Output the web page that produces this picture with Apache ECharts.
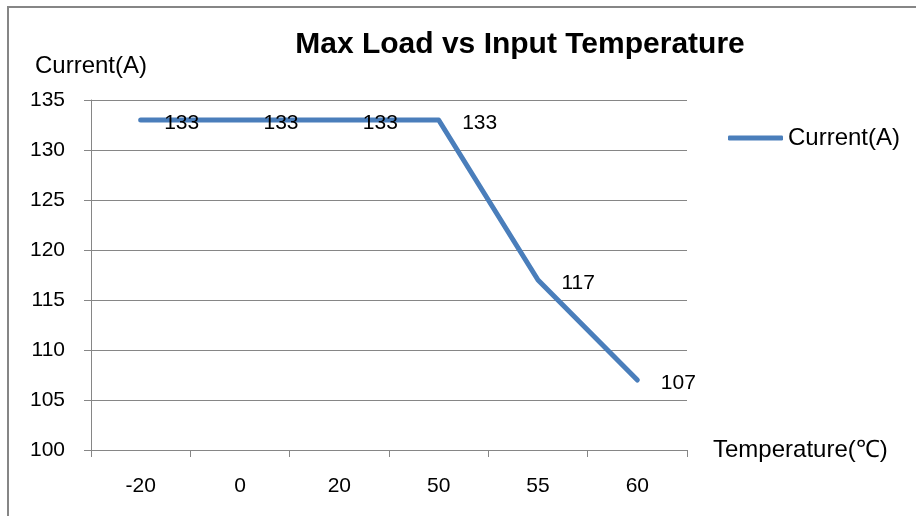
<!DOCTYPE html>
<html>
<head>
<meta charset="utf-8">
<script src="https://cdn.jsdelivr.net/npm/echarts@6/dist/echarts.min.js"></script>
<style>html,body{margin:0;padding:0;background:#fff}#c{width:916px;height:516px}</style>
</head>
<body>
<div id="c"></div>
<script>
var categories = ['-20', '0', '20', '50', '55', '60'];
var current = [133, 133, 133, 133, 117, 107];
var yMin = 100, yMax = 135, yStep = 5;
var titleText = 'Max Load vs Input Temperature';
var seriesName = 'Current(A)';
var yName = 'Current(A)';
var xName = 'Temperature(℃)';

var FONT = '"Liberation Sans", Arial, sans-serif';
var GRAY = '#868686';
var chart = echarts.init(document.getElementById('c'), null, {renderer: 'canvas'});
chart.setOption({
  animation: false,
  backgroundColor: '#fff',
  textStyle: {fontFamily: FONT},
  title: {
    text: titleText, left: 520, top: 30, textAlign: 'center', padding: 0,
    textStyle: {fontFamily: FONT, fontSize: 30, fontWeight: 'bold', color: '#000'}
  },
  legend: {
    left: 728, top: 126, padding: 0, icon: 'roundRect', itemWidth: 55, itemHeight: 5,
    textStyle: {fontFamily: FONT, fontSize: 24, color: '#000'},
    data: [seriesName]
  },
  graphic: [{
    type: 'rect', shape: {x: 8, y: 7, width: 1000, height: 600},
    style: {fill: 'none', stroke: GRAY, lineWidth: 2}, silent: true, z: -1
  }],
  grid: {left: 91, right: 229, top: 100, bottom: 66, containLabel: false},
  xAxis: {
    type: 'category', data: categories, boundaryGap: true,
    name: xName, nameLocation: 'end', nameGap: 26,
    nameTextStyle: {fontFamily: FONT, fontSize: 24, color: '#000', verticalAlign: 'middle', align: 'left'},
    axisLine: {lineStyle: {color: GRAY, width: 1}},
    axisTick: {show: true, length: 7, inside: false, lineStyle: {color: GRAY}},
    axisLabel: {fontFamily: FONT, fontSize: 21, color: '#000', margin: 26},
    splitLine: {show: false}
  },
  yAxis: {
    type: 'value', min: yMin, max: yMax, interval: yStep,
    name: yName, nameLocation: 'end', nameGap: 34,
    nameTextStyle: {fontFamily: FONT, fontSize: 24, color: '#000', verticalAlign: 'middle', align: 'center'},
    axisLine: {show: true, lineStyle: {color: GRAY, width: 1}},
    axisTick: {show: true, length: 7, inside: false, lineStyle: {color: GRAY}},
    axisLabel: {fontFamily: FONT, fontSize: 21, color: '#000', margin: 26},
    splitLine: {show: true, lineStyle: {color: GRAY, width: 1}}
  },
  series: [{
    name: seriesName, type: 'line', data: current,
    showSymbol: true, symbol: 'circle', symbolSize: 1,
    itemStyle: {color: '#4A7EBB'},
    lineStyle: {color: '#4A7EBB', width: 5, cap: 'round', join: 'round'},
    label: {show: true, position: 'right', distance: 23, offset: [0, 3],
      fontFamily: FONT, fontSize: 21, color: '#000'}
  }]
});
</script>
</body>
</html>
